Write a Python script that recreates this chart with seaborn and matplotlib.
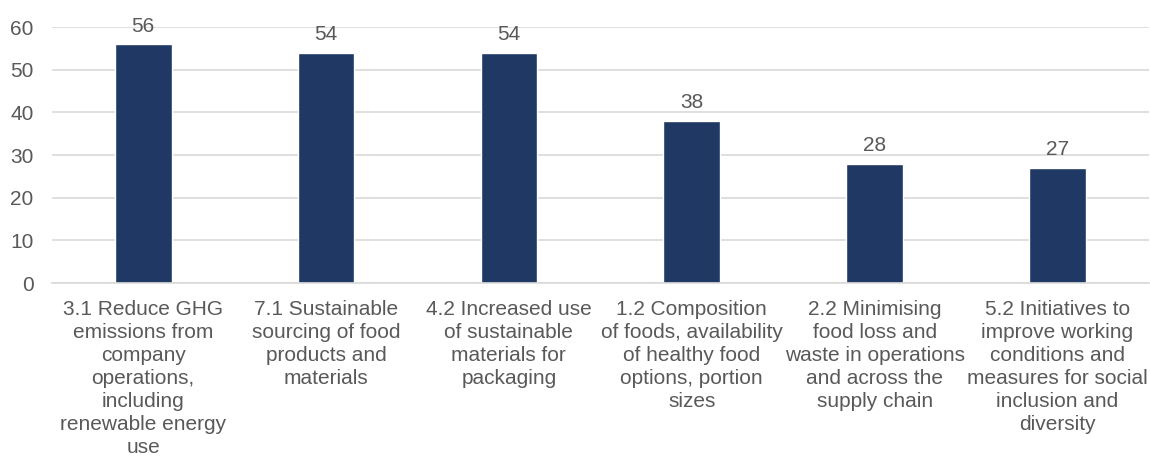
import matplotlib
matplotlib.use("Agg")
import matplotlib.pyplot as plt
import seaborn as sns
import pandas as pd

categories = [
    "3.1 Reduce GHG\nemissions from\ncompany\noperations,\nincluding\nrenewable energy\nuse",
    "7.1 Sustainable\nsourcing of food\nproducts and\nmaterials",
    "4.2 Increased use\nof sustainable\nmaterials for\npackaging",
    "1.2 Composition\nof foods, availability\nof healthy food\noptions, portion\nsizes",
    "2.2 Minimising\nfood loss and\nwaste in operations\nand across the\nsupply chain",
    "5.2 Initiatives to\nimprove working\nconditions and\nmeasures for social\ninclusion and\ndiversity",
]
values = [56, 54, 54, 38, 28, 27]
yticks = [0, 10, 20, 30, 40, 50, 60]

sns.set_theme(style="white")
plt.rcParams['font.family'] = ['Liberation Sans', 'DejaVu Sans']
text_color = "#595959"

df = pd.DataFrame({"cat": categories, "val": values})
fig = plt.figure(figsize=(11.5, 4.59), dpi=100)
ax = fig.add_axes([0.045, 0.3834, 0.954, 0.5576])
sns.barplot(data=df, x="cat", y="val", color="#1F3864", width=0.31, ax=ax, saturation=1)
ax.set_ylim(0, 60)
ax.set_yticks(yticks)
ax.set_xlim(-0.5, len(categories) - 0.5)
ax.yaxis.grid(True, color="#D9D9D9", linewidth=1.2)
ax.set_axisbelow(True)
for s in ["top", "right", "left"]:
    ax.spines[s].set_visible(False)
ax.spines["bottom"].set_color("#D9D9D9")
ax.spines["bottom"].set_linewidth(1.2)
ax.set_xlabel("")
ax.set_ylabel("")
ax.tick_params(axis="y", length=0, pad=13, labelsize=15, labelcolor=text_color)
ax.tick_params(axis="x", length=0, pad=12, labelsize=15, labelcolor=text_color)
for lbl in ax.get_xticklabels():
    lbl.set_linespacing(1.27)
    lbl.set_ha("center")
for i, v in enumerate(values):
    ax.text(i, v + 2.0, str(v), ha="center", va="bottom", fontsize=15, color=text_color, clip_on=False)

fig.savefig("out.png", dpi=100, facecolor="white")
